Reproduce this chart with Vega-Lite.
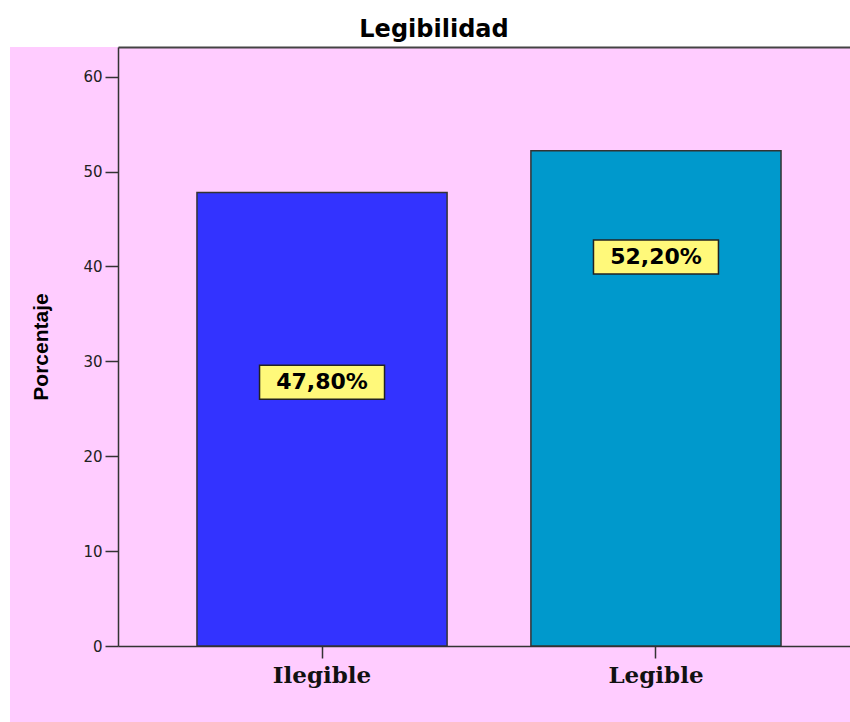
{
  "$schema": "https://vega.github.io/schema/vega-lite/v6.json",
  "width": 840,
  "height": 675,
  "autosize": {"type": "none"},
  "padding": {"left": 10, "top": 47, "right": 0, "bottom": 0},
  "background": "white",
  "title": {
    "text": "Legibilidad",
    "font": "DejaVu Sans",
    "fontSize": 24,
    "fontWeight": "bold",
    "color": "black",
    "anchor": "middle",
    "frame": "group",
    "dx": 4,
    "dy": 24,
    "offset": 10,
    "baseline": "alphabetic"
  },
  "config": {
    "view": {"fill": "#FFCCFF", "stroke": null},
    "axisY": {
      "labelFont": "DejaVu Sans",
      "labelFontSize": 15,
      "labelColor": "#222222",
      "labelPadding": 3,
      "tickSize": 13,
      "tickWidth": 1.5,
      "tickColor": "#333333",
      "domainColor": "#333333",
      "domainWidth": 1.5,
      "titleFont": "Liberation Sans",
      "titleFontSize": 21,
      "titleFontWeight": "bold",
      "titleColor": "black",
      "titlePadding": 31,
      "grid": false
    }
  },
  "data": {
    "values": [
      {"categoria": "Ilegible", "porcentaje": 47.8, "etiqueta": "47,80%", "pos_etiqueta": 27.8},
      {"categoria": "Legible", "porcentaje": 52.2, "etiqueta": "52,20%", "pos_etiqueta": 41.0}
    ]
  },
  "layer": [
    {
      "mark": {"type": "bar", "stroke": "#333333", "strokeWidth": 1.5},
      "encoding": {
        "x": {
          "field": "categoria",
          "type": "nominal",
          "sort": null,
          "scale": {"range": [108, 850], "paddingInner": 0.251, "paddingOuter": 0.2365},
          "axis": {
            "orient": "bottom",
            "offset": -76,
            "title": null,
            "labelAngle": 0,
            "labelFont": "DejaVu Serif",
            "labelFontWeight": "bold",
            "labelFontSize": 23,
            "labelColor": "#111111",
            "labelPadding": 6,
            "tickSize": 12,
            "tickWidth": 1.5,
            "tickColor": "#333333",
            "domainColor": "#333333",
            "domainWidth": 1.5
          }
        },
        "y": {
          "field": "porcentaje",
          "type": "quantitative",
          "scale": {"domain": [0, 63.13], "range": [599, 0], "nice": false, "zero": true},
          "axis": {
            "orient": "left",
            "offset": -108,
            "values": [0, 10, 20, 30, 40, 50, 60],
            "title": "Porcentaje"
          }
        },
        "color": {
          "field": "categoria",
          "type": "nominal",
          "scale": {"domain": ["Ilegible", "Legible"], "range": ["#3333FF", "#0099CC"]},
          "legend": null
        }
      }
    },
    {
      "mark": {
        "type": "point",
        "shape": "M-3.676,-1H3.676V1H-3.676Z",
        "size": 1156,
        "filled": true,
        "fill": "#FFF97A",
        "stroke": "#222222",
        "strokeWidth": 1.5,
        "opacity": 1
      },
      "encoding": {
        "x": {
          "field": "categoria",
          "type": "nominal",
          "sort": null,
          "axis": {
            "orient": "top",
            "offset": 0,
            "title": null,
            "labels": false,
            "ticks": false,
            "domainColor": "#444444",
            "domainWidth": 2
          }
        },
        "y": {
          "field": "pos_etiqueta",
          "type": "quantitative",
          "axis": {
            "orient": "left",
            "offset": -108,
            "values": [0, 10, 20, 30, 40, 50, 60],
            "title": "Porcentaje"
          }
        }
      }
    },
    {
      "mark": {
        "type": "text",
        "font": "DejaVu Sans",
        "fontSize": 22,
        "fontWeight": "bold",
        "color": "black",
        "baseline": "middle",
        "align": "center"
      },
      "encoding": {
        "x": {"field": "categoria", "type": "nominal", "sort": null, "axis": null},
        "y": {
          "field": "pos_etiqueta",
          "type": "quantitative",
          "axis": {
            "orient": "left",
            "offset": -108,
            "values": [0, 10, 20, 30, 40, 50, 60],
            "title": "Porcentaje"
          }
        },
        "text": {"field": "etiqueta"}
      }
    }
  ],
  "resolve": {"axis": {"x": "independent"}}
}
